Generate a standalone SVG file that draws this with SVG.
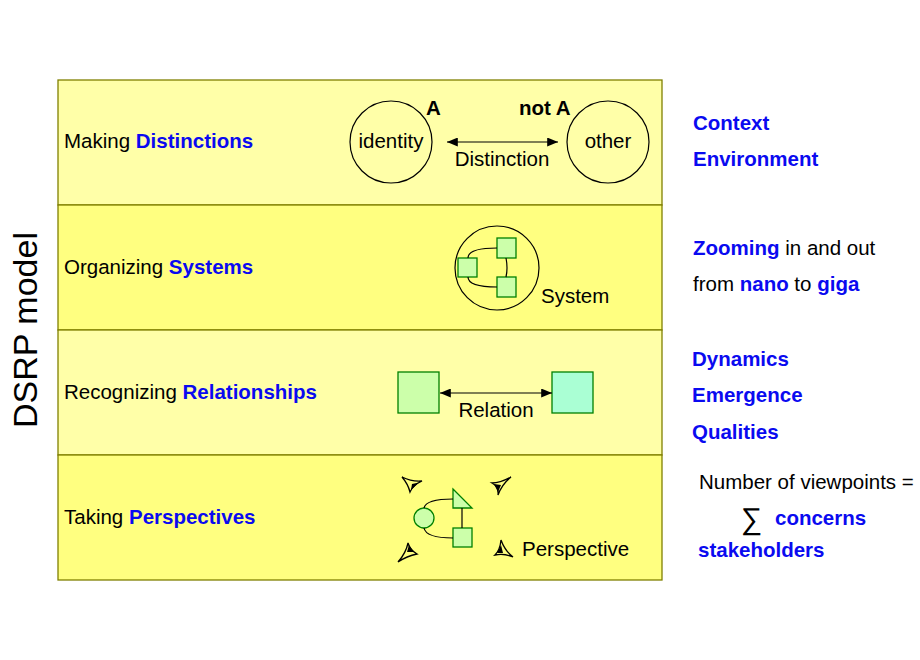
<svg xmlns="http://www.w3.org/2000/svg" width="920" height="660" viewBox="0 0 920 660">
<defs>
<style>
text{font-family:"Liberation Sans",Arial,sans-serif;fill:#000}
.lbl{font-size:20.5px}
.b{font-weight:bold;fill:#0a0af0}
.rt{font-size:20.5px}
.sm{font-size:20.5px}
.band1{fill:#FFFFA8;stroke:#808000;stroke-width:1.3}
.band2{fill:#FFFF80;stroke:#808000;stroke-width:1.3}
.g1{fill:#CCFFAA;stroke:#008000;stroke-width:1.3}
.g2{fill:#AAFFD4;stroke:#008000;stroke-width:1.3}
.ln{fill:none;stroke:#000;stroke-width:1.2}
.eye{fill:none;stroke:#000;stroke-width:1.3}
.eyef{fill:#000}
</style>
<marker id="ah" viewBox="0 0 12 10" refX="12" refY="5" markerWidth="12" markerHeight="9" markerUnits="userSpaceOnUse" orient="auto-start-reverse">
<path d="M0,0 L12,5 L0,10 Z" fill="#000"/>
</marker>
</defs>
<rect width="920" height="660" fill="#fff"/>

<g id="title">
<text transform="translate(37,330) rotate(-90)" text-anchor="middle" font-size="34">DSRP model</text>
</g>

<g id="band-distinctions">
<rect class="band1" x="58" y="80" width="604" height="125"/>
<text class="lbl" x="64" y="148">Making <tspan class="b">Distinctions</tspan></text>
</g>
<g id="band-systems">
<rect class="band2" x="58" y="205" width="604" height="125"/>
<text class="lbl" x="64" y="274">Organizing <tspan class="b">Systems</tspan></text>
</g>
<g id="band-relationships">
<rect class="band1" x="58" y="330" width="604" height="125"/>
<text class="lbl" x="64" y="399">Recognizing <tspan class="b">Relationships</tspan></text>
</g>
<g id="band-perspectives">
<rect class="band2" x="58" y="455" width="604" height="125"/>
<text class="lbl" x="64" y="524">Taking <tspan class="b">Perspectives</tspan></text>
</g>

<g id="identity">
<circle cx="391" cy="142" r="41" fill="none" stroke="#000" stroke-width="1.2"/>
<text class="sm" x="391" y="148" text-anchor="middle">identity</text>
<text class="sm" x="426" y="115" font-weight="bold">A</text>
</g>
<g id="other">
<circle cx="608" cy="142" r="41" fill="none" stroke="#000" stroke-width="1.2"/>
<text class="sm" x="608" y="148" text-anchor="middle">other</text>
<text class="sm" x="519" y="115" font-weight="bold">not A</text>
</g>

<g id="system">
<circle cx="497" cy="268" r="42" fill="none" stroke="#000" stroke-width="1.2"/>
<rect class="g1" x="458" y="258" width="19" height="19"/>
<rect class="g1" x="497" y="238" width="19" height="20"/>
<rect class="g1" x="497" y="277" width="19" height="20"/>
<text class="sm" x="541" y="303">System</text>
</g>

<g id="relation-a"><rect class="g1" x="398" y="372" width="41" height="41"/></g>
<g id="relation-b"><rect class="g2" x="552" y="372" width="41" height="41"/></g>

<g id="perspective">
<circle class="g1" cx="424" cy="518" r="10"/>
<path class="g1" d="M453,489 L472,508 L453,508 Z"/>
<rect class="g1" x="453" y="528" width="19" height="19"/>
<path class="eye" d="M402,477 Q412,482 422,481 Q413,485 410,492 Q408,484 402,477 Z"/>
<path class="eyef" d="M412,484 L419,482.5 L411,490 Z"/>
<path class="eye" d="M511,477 Q500,483 492,483 Q499,487 498,495 Q502,484 511,477 Z"/>
<path class="eyef" d="M494,484 L501,485 L498,492 Z"/>
<path class="eye" d="M398,562 Q407,556 417,554 Q410,550 408,543 Q406,553 398,562 Z"/>
<path class="eyef" d="M409,545 L414,552 L407,552 Z"/>
<path class="eye" d="M513,557 Q505,551 501,540 Q500,550 495,555 Q504,553 513,557 Z"/>
<path class="eyef" d="M497,553 L501,545 L503,553 Z"/>
<text class="sm" x="522" y="556">Perspective</text>
</g>

<g id="connectors">
<line class="ln" x1="447" y1="142" x2="558" y2="142" marker-start="url(#ah)" marker-end="url(#ah)"/>
<text class="sm" x="502" y="166" text-anchor="middle">Distinction</text>
<path class="ln" d="M468,258 Q468,248 497,248"/>
<path class="ln" d="M468,277 Q468,287 497,287"/>
<path class="ln" d="M506,258 Q508,268 506,277"/>
<line class="ln" x1="440" y1="393" x2="552" y2="393" marker-start="url(#ah)" marker-end="url(#ah)"/>
<text class="sm" x="496" y="417" text-anchor="middle">Relation</text>
<path class="ln" d="M424,508 Q426,499 453,499"/>
<path class="ln" d="M424,528 Q426,538 453,538"/>
<line class="ln" x1="462" y1="508" x2="462" y2="528"/>
</g>

<g id="notes">
<text class="rt b" x="693" y="130">Context</text>
<text class="rt b" x="693" y="166">Environment</text>
<text class="rt" x="693" y="255"><tspan class="b">Zooming</tspan> in and out</text>
<text class="rt" x="693" y="291">from <tspan class="b">nano</tspan> to <tspan class="b">giga</tspan></text>
<text class="rt b" x="692" y="366">Dynamics</text>
<text class="rt b" x="692" y="402">Emergence</text>
<text class="rt b" x="692" y="439">Qualities</text>
<text class="rt" x="699" y="489">Number of viewpoints =</text>
<text x="741" y="529" font-size="30">∑</text>
<text class="rt b" x="775" y="525">concerns</text>
<text class="rt b" x="698" y="557">stakeholders</text>
</g>
</svg>
